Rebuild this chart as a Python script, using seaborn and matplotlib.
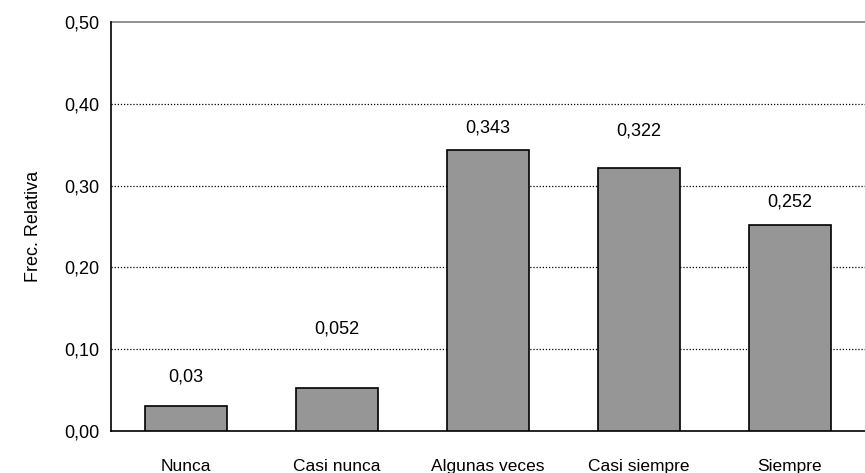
import matplotlib
matplotlib.use("Agg")
import matplotlib.pyplot as plt
import numpy as np
import pandas as pd
import seaborn as sns

sns.set_theme(style="white")
plt.rcParams['font.family'] = ['Liberation Sans', 'DejaVu Sans']
plt.rcParams['text.color'] = 'black'
plt.rcParams['axes.labelcolor'] = 'black'
plt.rcParams['xtick.color'] = 'black'
plt.rcParams['ytick.color'] = 'black'

categorias = ["Nunca", "Casi nunca", "Algunas veces", "Casi siempre", "Siempre"]
frec_rel = [0.03, 0.052, 0.343, 0.322, 0.252]
etiquetas = ["0,03", "0,052", "0,343", "0,322", "0,252"]
yticks = [0.0, 0.1, 0.2, 0.3, 0.4, 0.5]
yticklabels = ["0,00", "0,10", "0,20", "0,30", "0,40", "0,50"]

# where the value labels sit (Excel places them unevenly)
label_y = [0.066, 0.125, 0.370, 0.367, 0.280]

df = pd.DataFrame({"cat": categorias, "frec": frec_rel})

fig = plt.figure(figsize=(8.65, 4.73), dpi=100)
ax = fig.add_axes([0.128, 0.0888, 0.881, 0.8647])

sns.barplot(data=df, x="cat", y="frec", color="#969696", saturation=1,
            width=0.54, edgecolor="black", linewidth=1.2, ax=ax, zorder=3)

ax.set_ylim(0, 0.5)
ax.set_xlim(-0.5, 4.55)
ax.set_yticks(yticks)
ax.set_yticklabels(yticklabels, fontsize=13)

# grid dotted
for y in yticks[1:-1]:
    ax.axhline(y, color="black", linestyle=(0, (1, 1.5)), linewidth=0.9, zorder=1)
ax.axhline(0.5, color="#808080", linewidth=1.2, zorder=1, clip_on=False)

# category ticks on boundaries, labels centered
ax.set_xticks(np.arange(-0.5, 5, 1))
ax.set_xticklabels([])
ax.set_xticks(np.arange(5), minor=True)
ax.set_xticklabels(categorias, minor=True, fontsize=12.5)
ax.tick_params(axis="x", which="major", direction="out", length=5, width=1.2, color="black")
ax.tick_params(axis="x", which="minor", length=0, pad=20)
ax.tick_params(axis="y", direction="out", length=5, width=1.2, color="black", pad=3)

for i, (ly, t) in enumerate(zip(label_y, etiquetas)):
    ax.text(i, ly, t, ha="center", va="center", fontsize=13)

ax.set_xlabel("")
ax.set_ylabel("Frec. Relativa", fontsize=13, labelpad=16)

for s in ["top", "right"]:
    ax.spines[s].set_visible(False)
ax.spines["left"].set_color("black")
ax.spines["left"].set_linewidth(1.2)
ax.spines["bottom"].set_color("black")
ax.spines["bottom"].set_linewidth(1.2)

fig.savefig("out.png", dpi=100)
